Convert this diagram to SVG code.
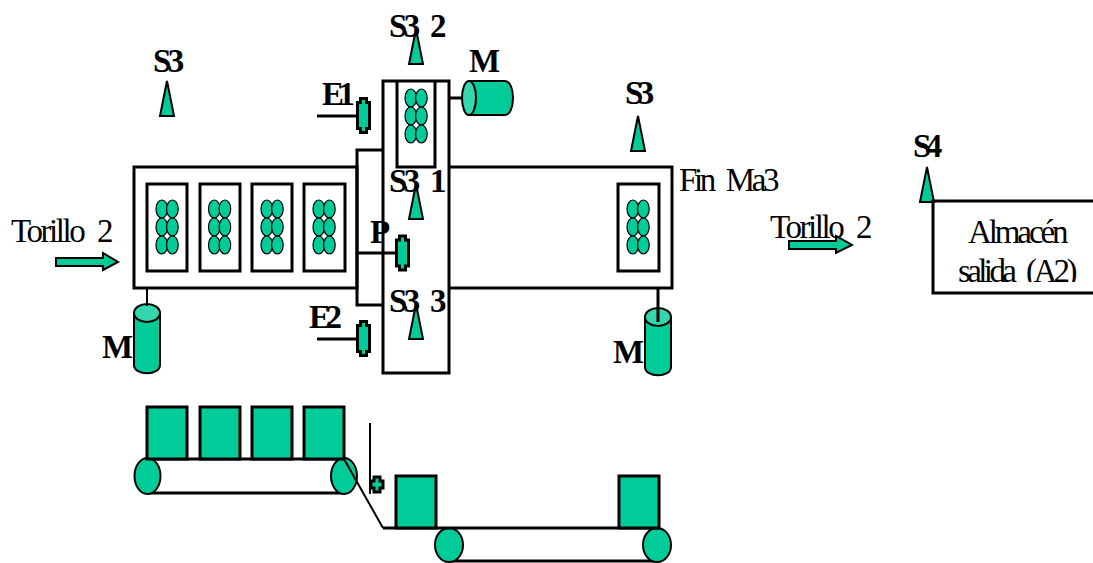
<svg xmlns="http://www.w3.org/2000/svg" xmlns:xlink="http://www.w3.org/1999/xlink" width="1093" height="563" viewBox="0 0 1093 563">
<style>
.l{fill:none;stroke:#000;stroke-width:3}
.t{fill:none;stroke:#000;stroke-width:3}
.w{fill:none;stroke:#000;stroke-width:2}
.g{fill:#00cc99;stroke:#000;stroke-width:2}
.gt{fill:#00cc99;stroke:#000;stroke-width:3}
.top{fill:#33d6ad;stroke:#000;stroke-width:2}
.e{fill:#00cc99;stroke:#000;stroke-width:1.2}
text{font-family:"Liberation Serif",serif;fill:#000}
.n{font-size:33px;letter-spacing:-2.5px;word-spacing:8px}
.b{font-size:33px;font-weight:bold;letter-spacing:-3.5px}
.c{letter-spacing:-5.5px}
</style>
<defs>
<g id="oval"><ellipse cx="-5.200" cy="-18" rx="5.800" ry="9" class="e"/><ellipse cx="5.400" cy="-18" rx="5.800" ry="9" class="e"/><ellipse cx="-5.200" cy="0" rx="5.800" ry="9" class="e"/><ellipse cx="5.400" cy="0" rx="5.800" ry="9" class="e"/><ellipse cx="-5.200" cy="18" rx="5.800" ry="9" class="e"/><ellipse cx="5.400" cy="18" rx="5.800" ry="9" class="e"/></g>
<polygon id="sensor" points="0,-35 7,0 -7,0" class="g"/>
<path id="act" d="M-3,-17H3V-13H6V13H3V17H-3V13H-6V-13H-3Z" class="gt"/>
</defs>
<g id="left-station">
<rect x="134" y="167" width="223" height="121" class="l"/>
<rect x="147" y="184" width="40" height="87" class="t"/><use xlink:href="#oval" x="167" y="227"/>
<rect x="200" y="184" width="40" height="87" class="t"/><use xlink:href="#oval" x="219.500" y="227"/>
<rect x="252" y="184" width="40" height="87" class="t"/><use xlink:href="#oval" x="272" y="227"/>
<rect x="304" y="184" width="41" height="87" class="t"/><use xlink:href="#oval" x="324" y="227"/>
</g>
<g id="right-station">
<path d="M449,167H672V288H449" class="l"/>
<rect x="618" y="184" width="41" height="87" class="t"/><use xlink:href="#oval" x="638" y="227"/>
</g>
<g id="transfer-frame"><path d="M383,150H357V305H383" class="l"/></g>
<g id="cross-station">
<rect x="383" y="81" width="66" height="292" class="l"/>
<path d="M397,81V167H435V81" class="l"/>
<use xlink:href="#oval" x="416" y="116"/>
</g>
<g id="sensors">
<use xlink:href="#sensor" x="167" y="116"/>
<use xlink:href="#sensor" x="416" y="64"/>
<use xlink:href="#sensor" x="416" y="219"/>
<use xlink:href="#sensor" x="416" y="339"/>
<use xlink:href="#sensor" x="638" y="151"/>
<use xlink:href="#sensor" x="927" y="202"/>
</g>
<g id="actuators">
<use xlink:href="#act" x="363.500" y="115.500"/>
<use xlink:href="#act" x="363.500" y="338.500"/>
<use xlink:href="#act" x="402.500" y="253"/>
<path d="M374,477H380V481H383V488H380V492H374V488H371V481H374Z" class="gt"/>
</g>
<g id="motor-top">
<path d="M469,81H505C510,81 513,89 513,98C513,107 510,115 505,115H469Z" class="g"/>
<ellipse cx="469" cy="98" rx="7" ry="17" class="top"/>
</g>
<g id="motor-left">
<path d="M134,313V365C134,376 160,376 160,365V313Z" class="g"/>
<ellipse cx="147" cy="313" rx="13" ry="9" class="top"/>
</g>
<g id="motor-right">
<path d="M645,317V367C645,378 671,378 671,367V317Z" class="g"/>
<ellipse cx="658" cy="317" rx="13" ry="9" class="top"/>
</g>
<g id="arrows">
<polygon points="56,258 103,258 103,253 118,262 103,270 103,266 56,266" class="g"/>
<polygon points="789,241 836,241 836,236 852,245 836,253 836,249 789,249" class="g"/>
</g>
<g id="store">
<text x="968" y="243" class="n" textLength="98">Almacén</text>
<text x="958" y="282" class="n" textLength="117">salida (A2)</text>
<rect x="940" y="282" width="150" height="10" fill="#fff"/>
<path d="M1093,201H933V293H1093" class="l"/>
</g>
<g id="belt-left">
<path d="M147,459H344M147,493H344" class="l"/>
<ellipse cx="147.500" cy="476" rx="13" ry="18" class="g"/>
<ellipse cx="344" cy="476" rx="13" ry="18" class="g"/>
<rect x="147" y="407" width="40" height="52" class="gt"/>
<rect x="200" y="407" width="40" height="52" class="gt"/>
<rect x="252" y="407" width="40" height="52" class="gt"/>
<rect x="304" y="407" width="40" height="52" class="gt"/>
</g>
<g id="belt-right">
<path d="M449,561H658" class="l"/>
<ellipse cx="449" cy="545" rx="14" ry="17" class="g"/>
<ellipse cx="657" cy="545" rx="14" ry="17" class="g"/>
<path d="M383,528H659" class="l"/>
<rect x="396" y="476" width="40" height="52" class="gt"/>
<rect x="619" y="476" width="40" height="52" class="gt"/>
</g>
<g id="connectors">
<path d="M317,116H356M317,339H356M357,253H397M449,98H463" class="l"/>
<path d="M147,288V306" class="w"/>
<path d="M658,288V322" class="l"/>
<path d="M370,423V494" class="w"/>
<path d="M344,459L383,528" class="w"/>
</g>
<g id="labels">
<text x="153" y="72" class="b">S3</text>
<text x="389" y="37" class="b">S3</text><text x="430" y="37" class="b">2</text>
<text x="389" y="192" class="b">S3</text><text x="430" y="192" class="b">1</text>
<text x="389" y="312" class="b">S3</text><text x="430" y="312" class="b">3</text>
<text x="322" y="105" class="b c">E1</text>
<text x="309" y="328" class="b c">E2</text>
<text x="370" y="243" class="b">P</text>
<text x="469" y="72" class="b">M</text>
<text x="102" y="358" class="b">M</text>
<text x="613" y="363" class="b">M</text>
<text x="625" y="104" class="b c">S3</text>
<text x="913" y="157" class="b c">S4</text>
<text x="11" y="242" class="n" textLength="100">Torillo 2</text>
<text x="770" y="238" class="n" textLength="100">Torillo 2</text>
<text x="679" y="191" class="n" textLength="98">Fin Ma3</text>
</g>
</svg>
